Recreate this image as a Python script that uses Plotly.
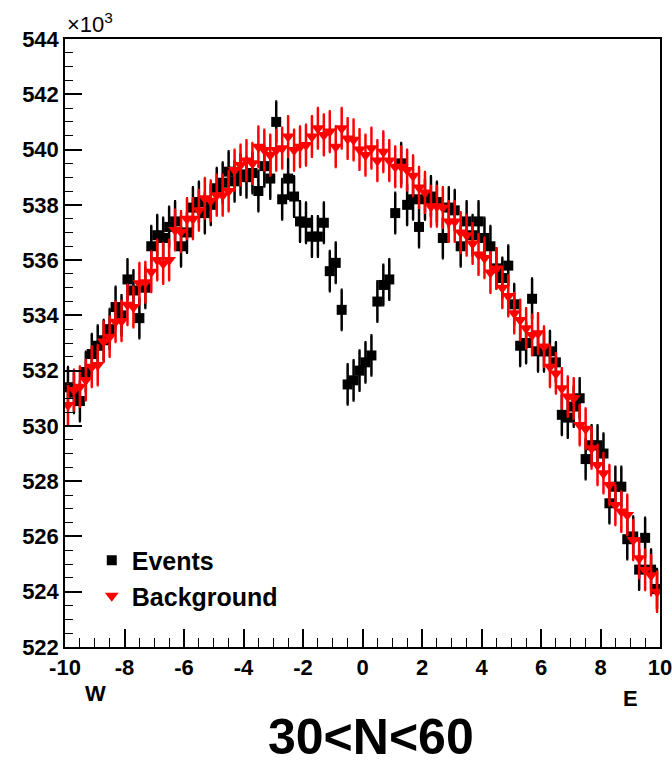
import numpy as np
import plotly.graph_objects as go

# Counts (x10^3) per bin, 100 bins of width 0.2 between -10 and 10
events = [
    531.4, 531.2, 530.9, 531.95, 532.6, 532.9, 533.1, 533.5, 534.3, 534.0,
    535.3, 534.9, 533.9, 535.0, 536.5, 536.9, 536.8, 537.2, 537.4, 536.5,
    537.0, 537.9, 538.1, 537.7, 538.0, 538.6, 538.8, 539.2, 538.85, 539.1,
    539.0, 539.15, 538.5, 539.4, 538.95, 541.0, 538.2, 538.95, 538.3, 537.4,
    537.35, 536.85, 536.85, 537.35, 535.6, 535.9, 534.2, 531.5, 531.65, 532.0,
    532.3, 532.55, 534.5, 535.1, 535.3, 537.7, 539.5, 538.0, 538.2, 537.2,
    538.2, 538.3, 538.1, 536.8, 537.9, 537.8, 536.5, 537.4, 536.9, 537.4,
    536.8, 536.5, 535.7, 535.35, 535.8, 534.4, 532.9, 533.0, 534.6, 532.7,
    532.7, 532.7, 532.3, 530.4, 530.3, 530.7, 531.0, 528.8, 529.3, 529.3,
    529.0, 527.2, 527.8, 527.8, 525.9, 526.0, 524.8, 525.95, 524.8, 524.1,
]

background = [
    530.76, 531.3, 531.42, 531.66, 532.14, 532.2, 533.05, 533.23, 533.77, 533.8,
    534.38, 534.3, 535.16, 535.2, 535.58, 536.0, 535.88, 536.0, 537.09, 537.03,
    537.5, 537.5, 537.8, 538.24, 538.15, 538.35, 538.35, 538.5, 539.26, 539.44,
    539.6, 539.5, 540.1, 539.98, 539.8, 539.98, 540.05, 540.47, 539.98, 540.1,
    540.16, 540.47, 540.77, 540.53, 540.65, 540.1, 540.77, 540.4, 540.35, 540.0,
    539.8, 540.05, 539.6, 539.92, 539.6, 539.38, 539.38, 539.26, 539.05, 538.63,
    538.45, 537.95, 537.95, 537.9, 537.4, 537.4, 537.0, 536.9, 536.6, 536.2,
    536.08, 535.55, 535.7, 535.0, 534.7, 534.08, 533.83, 533.53, 533.29, 533.35,
    532.87, 532.14, 531.9, 531.36, 531.06, 531.0, 530.03, 529.9, 529.19, 528.59,
    528.29, 527.86, 527.14, 526.9, 526.78, 525.87, 525.21, 524.79, 524.6, 524.0,
]

x_min, x_max, n_bins = -10.0, 10.0, 100
y_ticks = [522, 524, 526, 528, 530, 532, 534, 536, 538, 540, 542, 544]
x_ticks = [-10, -8, -6, -4, -2, 0, 2, 4, 6, 8, 10]

bin_w = (x_max - x_min) / n_bins
centers = x_min + bin_w * (np.arange(n_bins) + 0.5)
ev = np.array(events)
bg = np.array(background)
ev_err = np.sqrt(ev * 1000.0) / 1000.0
bg_err = np.sqrt(bg * 1000.0) / 1000.0

FONT = "Liberation Sans, Arial, sans-serif"

fig = go.Figure()
fig.add_trace(go.Scatter(
    x=centers, y=ev, mode="markers", name="Events",
    marker=dict(symbol="square", size=10, color="black"),
    error_y=dict(type="data", array=ev_err, color="black", thickness=2.5, width=1),
))
fig.add_trace(go.Scatter(
    x=centers, y=bg, mode="markers", name="Background",
    marker=dict(symbol="triangle-down", size=12, color="#ff0000"),
    error_y=dict(type="data", array=bg_err, color="#ff0000", thickness=2.5, width=1),
))

fig.update_layout(
    width=672, height=767,
    margin=dict(l=65, r=12, t=39, b=120),
    paper_bgcolor="white", plot_bgcolor="white",
    font=dict(family=FONT, color="black"),
    showlegend=True,
    legend=dict(
        x=0.045, y=0.18, xanchor="left", yanchor="top",
        bgcolor="rgba(0,0,0,0)",
        font=dict(family=FONT, size=25, color="black", weight="bold"),
        tracegroupgap=0,
    ),
    xaxis=dict(
        range=[x_min, x_max], tickvals=x_ticks,
        ticktext=[str(v) for v in x_ticks],
        ticks="inside", ticklen=18, tickwidth=1.5, tickcolor="black",
        minor=dict(dtick=0.5, ticks="inside", ticklen=9, tickwidth=1, tickcolor="black"),
        showline=True, linecolor="black", linewidth=1.5, mirror=True,
        showgrid=False, zeroline=False, automargin=False,
        ticklabeloverflow="allow",
        tickfont=dict(family=FONT, size=22, color="black", weight="bold"),
    ),
    yaxis=dict(
        range=[522, 544], tickvals=y_ticks,
        ticktext=[str(v) for v in y_ticks],
        ticks="inside", ticklen=17, tickwidth=1.5, tickcolor="black",
        minor=dict(dtick=0.5, ticks="inside", ticklen=8, tickwidth=1, tickcolor="black"),
        showline=True, linecolor="black", linewidth=1.5, mirror=True,
        showgrid=False, zeroline=False, automargin=False,
        ticklabeloverflow="allow",
        tickfont=dict(family=FONT, size=22, color="black", weight="bold"),
    ),
    annotations=[
        dict(text="×10<sup>3</sup>", xref="paper", yref="paper", x=0.0, y=1.0,
             xanchor="left", yanchor="bottom", showarrow=False,
             font=dict(family=FONT, size=22, color="black")),
        dict(text="W", xref="paper", yref="paper", x=0.052, y=-0.077,
             xanchor="center", yanchor="middle", showarrow=False,
             font=dict(family=FONT, size=22, color="black", weight="bold")),
        dict(text="E", xref="paper", yref="paper", x=0.95, y=-0.084,
             xanchor="center", yanchor="middle", showarrow=False,
             font=dict(family=FONT, size=22, color="black", weight="bold")),
        dict(text="30&lt;N&lt;60", xref="paper", yref="paper", x=0.514, y=-0.197,
             xanchor="center", yanchor="bottom", showarrow=False,
             font=dict(family=FONT, size=50, color="black", weight="bold")),
    ],
)

fig.write_html("out.html", config={"displayModeBar": False},
               post_script="document.body.style.margin='0';")
